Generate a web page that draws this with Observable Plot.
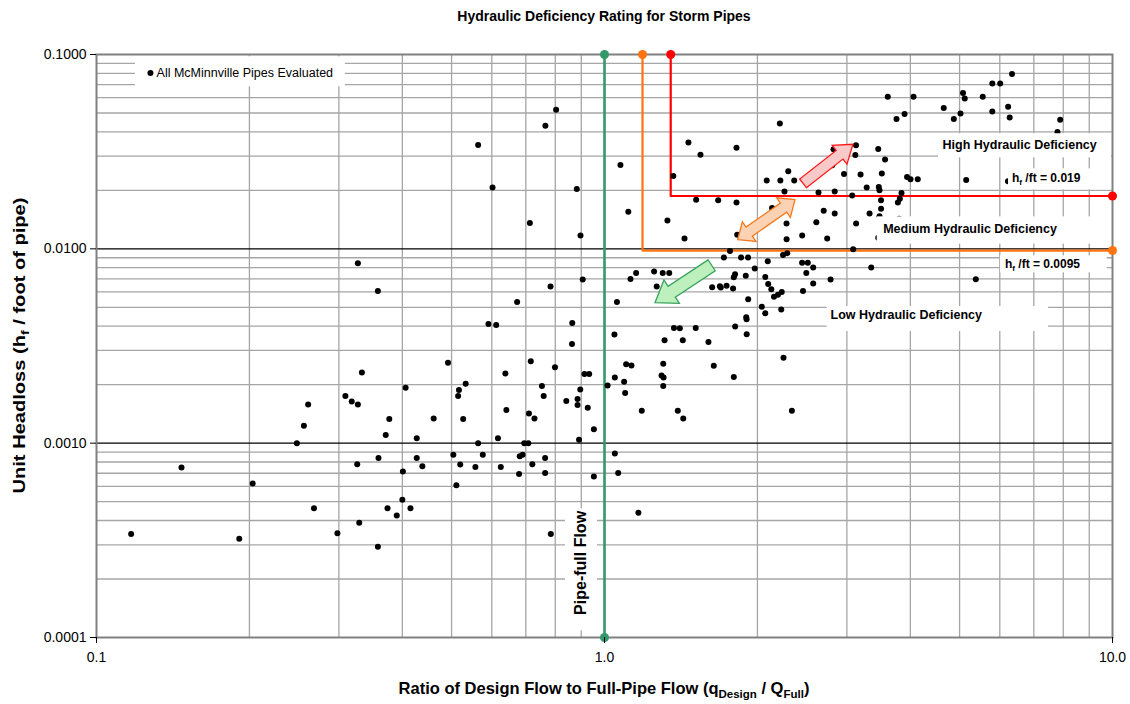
<!DOCTYPE html>
<html><head><meta charset="utf-8">
<script src="https://cdn.jsdelivr.net/npm/d3@7"></script>
<script src="https://cdn.jsdelivr.net/npm/@observablehq/plot@0.6"></script>
<style>body{margin:0;background:#fff;font-family:"Liberation Sans",Arial,sans-serif}</style>
</head><body><div id="chart"></div>
<script>
// Ratio of design flow to full-pipe flow (q_Design / Q_Full)
const pipeRatio = [
0.117,0.147,0.191,0.203,0.248,0.256,0.261,0.268,0.298,0.309,
0.318,0.326,0.327,0.327,0.329,0.333,0.358,0.358,0.359,0.371,
0.374,0.377,0.390,0.401,0.400,0.406,0.415,0.427,0.427,0.438,
0.461,0.492,0.504,0.511,0.515,0.517,0.520,0.527,0.533,0.557,
0.564,0.564,0.576,0.591,0.602,0.612,0.617,0.625,0.638,0.641,
0.673,0.679,0.681,0.690,0.695,0.708,0.710,0.713,0.716,0.721,
0.728,0.753,0.759,0.764,0.764,0.765,0.783,0.784,0.799,0.803,
0.841,0.864,0.863,0.882,0.885,0.885,0.891,0.896,0.897,0.906,
0.913,0.927,0.933,0.953,0.953,
1.014,1.046,1.048,1.048,1.058,1.064,1.075,1.093,1.098,1.103,
1.114,1.125,1.130,1.154,1.166,1.184,1.252,1.267,1.302,1.305,
1.295,1.307,1.305,1.313,1.330,1.341,1.366,1.370,1.394,1.429,
1.407,1.426,1.437,1.463,1.512,1.515,1.545,1.602,1.629,1.641,
1.674,1.687,1.694,1.739,1.766,1.791,1.797,1.797,1.807,1.808,
1.819,1.819,1.825,1.857,1.897,1.901,1.904,1.905,1.917,1.918,
1.976,2.040,2.072,2.072,2.086,2.096,2.100,2.130,2.137,2.156,
2.195,2.214,2.219,2.228,2.233,2.246,2.251,2.261,2.282,2.283,
2.289,2.300,2.338,2.363,2.450,2.449,2.459,2.496,2.513,2.575,
2.575,2.612,2.638,2.701,2.744,2.786,2.807,2.824,2.839,2.839,
2.961,3.073,3.087,3.117,3.127,3.128,3.192,3.282,3.325,3.350,
3.458,3.458,3.467,3.478,3.478,3.502,3.503,3.515,3.567,3.611,
3.757,3.780,3.804,3.814,3.843,3.896,3.941,4.003,4.058,4.137,
4.654,4.871,5.021,5.078,5.118,5.152,5.382,5.553,5.800,5.799,
6.010,6.227,6.231,6.275,6.342,7.793,7.888,1.718];

// Unit headloss (h_f / foot of pipe)
const pipeHeadloss = [
0.000341,0.000749,0.000322,0.000620,0.00100,0.00123,0.00158,0.000463,0.000344,0.00175,
0.00164,0.000780,0.00158,0.00844,0.000390,0.00231,0.000293,0.00606,0.000840,0.00110,
0.000463,0.00133,0.000424,0.000714,0.000511,0.00193,0.000463,0.00106,0.000840,0.000760,
0.00134,0.00259,0.000871,0.000608,0.00175,0.00188,0.000776,0.00133,0.00202,0.000755,
0.000998,0.0342,0.000871,0.00410,0.0207,0.00406,0.00106,0.000755,0.00228,0.00148,
0.00532,0.000693,0.000857,0.000871,0.000998,0.000998,0.00142,0.0136,0.00264,0.000778,
0.00134,0.00197,0.00175,0.000840,0.000702,0.0430,0.00640,0.000341,0.00246,0.0519,
0.00165,0.00415,0.00324,0.0203,0.00169,0.00157,0.00104,0.00189,0.0117,0.00695,
0.00227,0.00152,0.00227,0.00118,0.000673,
0.00198,0.00362,0.00218,0.000884,0.00532,0.000703,0.0270,0.00207,0.00181,0.00255,
0.0155,0.00699,0.00251,0.00752,0.000439,0.00147,0.00764,0.00640,0.00752,0.00256,
0.00223,0.00218,0.00197,0.00339,0.0140,0.00752,0.0237,0.00391,0.00147,0.00134,
0.00390,0.00339,0.0113,0.0353,0.00391,0.0179,0.0305,0.00332,0.00634,0.00250,
0.0178,0.00641,0.00632,0.00645,0.00974,0.00625,0.00715,0.00219,0.00741,0.00398,
0.0331,0.0173,0.0118,0.00902,0.00726,0.00444,0.00434,0.00364,0.00902,0.00551,
0.00792,0.00504,0.00716,0.00466,0.0225,0.00862,0.00660,0.00620,0.0162,0.00566,
0.00580,0.0441,0.0225,0.00487,0.00599,0.00929,0.00275,0.0197,0.0135,0.0112,
0.00950,0.0251,0.00147,0.0225,0.0117,0.00847,0.00606,0.00752,0.00847,0.00801,
0.00663,0.0137,0.0195,0.0157,0.0113,0.00695,0.0269,0.0325,0.0197,0.0152,
0.0243,0.0188,0.00994,0.0304,0.0341,0.0135,0.0241,0.0207,0.0152,0.00801,
0.0326,0.0114,0.0208,0.0200,0.0147,0.0178,0.0161,0.0244,0.0288,0.0606,
0.0465,0.0173,0.0143,0.0181,0.0194,0.0494,0.0234,0.0228,0.0606,0.0228,
0.0530,0.0465,0.0497,0.0633,0.0594,0.0226,0.00698,0.0606,0.0709,0.0509,
0.0709,0.0223,0.0539,0.0474,0.0793,0.0399,0.0461,0.00902];

// axis ticks / gridlines
const xTicks = [0.1, 1, 10];
const yTicks = [0.1, 0.01, 0.001, 0.0001];
const xMinor = [0.2,0.3,0.4,0.5,0.6,0.7,0.8,0.9,2,3,4,5,6,7,8,9];
const yMinor = [0.0002,0.0003,0.0004,0.0005,0.0006,0.0007,0.0008,0.0009,
                0.002,0.003,0.004,0.005,0.006,0.007,0.008,0.009,
                0.02,0.03,0.04,0.05,0.06,0.07,0.08,0.09];
const yMajor = [0.01, 0.001];

// deficiency thresholds (as drawn)
const pipeFullRatio = 1.0;
const mediumRatio = 1.188, mediumHeadloss = 0.0098;
const highRatio = 1.35, highHeadloss = 0.0187;

// annotation boxes [x1,x2,y1,y2] and label anchors, in data units
const labelBoxes = [
  {x1:0.1193, x2:0.309, y1:0.0682, y2:0.0973},   // legend
  {x1:4.545, x2:9.95, y1:0.0294, y2:0.0391},     // High
  {x1:6.242, x2:9.95, y1:0.0201, y2:0.0258},     // hf 0.019
  {x1:3.442, x2:9.95, y1:0.01057, y2:0.01461},   // Medium
  {x1:6.018, x2:9.76, y1:0.00752, y2:0.00920},   // hf 0.0095
  {x1:2.744, x2:7.482, y1:0.003753, y2:0.005047},// Low
  {x1:0.8378, x2:0.9687, y1:0.000108, y2:0.000459} // Pipe-full
];
const zoneLabels = [
  {x:4.628, y:0.0342, text:"High Hydraulic Deficiency"},
  {x:3.537, y:0.01258, text:"Medium Hydraulic Deficiency"},
  {x:2.786, y:0.004575, text:"Low Hydraulic Deficiency"}
];
const hfLabels = [
  {x:6.356, y:0.02319, value:"0.019"},
  {x:6.157, y:0.00834, value:"0.0095"}
];
const legendItem = {x:0.1277, tx:0.1313, y:0.0802, text:"All McMinnville Pipes Evaluated"};
const pipeFullLabel = {x:0.897, y:0.000242, text:"Pipe-full Flow"};

// block arrows: from -> to, in data units
const arrows = [
  {from:[2.465,0.0216], to:[3.091,0.0343], double:false, stroke:"#ff1a1a", fill:"#f9c9c9", w:5.5, h:12, L:17},
  {from:[1.833,0.01109], to:[2.377,0.0178], double:true, stroke:"#f57a1f", fill:"#fbd2b3", w:5.5, h:12, L:14},
  {from:[1.629,0.00818], to:[1.26,0.00525], double:false, stroke:"#3aa35f", fill:"#bdf0bd", w:6.5, h:14, L:20}
];

const pts = pipeRatio.map((r,i) => ({ratio:r, headloss:pipeHeadloss[i]}));
const highLine = [{x:highRatio,y:0.1},{x:highRatio,y:highHeadloss},{x:10,y:highHeadloss}];
const medLine = [{x:mediumRatio,y:0.1},{x:mediumRatio,y:mediumHeadloss},{x:10,y:mediumHeadloss}];
const fullLine = [{x:pipeFullRatio,y:0.1},{x:pipeFullRatio,y:0.0001}];

const plot = Plot.plot({
  width: 1130, height: 704,
  marginLeft: 96, marginRight: 18, marginTop: 54, marginBottom: 67,
  style: {fontFamily: "'Liberation Sans', Arial, sans-serif", fontSize: "14px", color: "#000", background: "#fff"},
  x: {type: "log", domain: [0.1, 10]},
  y: {type: "log", domain: [0.0001, 0.1]},
  marks: [
    Plot.ruleX(xMinor, {stroke: "#a6a6a6", strokeWidth: 1.3}),
    Plot.ruleY(yMinor, {stroke: "#a6a6a6", strokeWidth: 1.3}),
    Plot.ruleY(yMajor, {stroke: "#000", strokeWidth: 1.3}),
    Plot.frame({stroke: "#808080", strokeWidth: 2}),
    Plot.line(medLine, {x: "x", y: "y", stroke: "#ff7410", strokeWidth: 2.2}),
    Plot.line(highLine, {x: "x", y: "y", stroke: "#ff0000", strokeWidth: 2.2}),
    Plot.line(fullLine, {x: "x", y: "y", stroke: "#33996a", strokeWidth: 2.6}),
    Plot.dot(pts, {x: "ratio", y: "headloss", r: 3, fill: "#000"}),
    Plot.dot([medLine[0], medLine[2]], {x: "x", y: "y", r: 4.5, fill: "#ff7410"}),
    Plot.dot([highLine[0], highLine[2]], {x: "x", y: "y", r: 4.5, fill: "#ff0000"}),
    Plot.dot(fullLine, {x: "x", y: "y", r: 4.5, fill: "#33996a"}),
    Plot.rect(labelBoxes, {x1: "x1", x2: "x2", y1: "y1", y2: "y2", fill: "#fff"}),
    Plot.dot([legendItem], {x: "x", y: "y", r: 3, fill: "#000"}),
    Plot.text([legendItem], {x: "tx", y: "y", text: "text", textAnchor: "start", fontSize: 12.5}),
    Plot.text(zoneLabels, {x: "x", y: "y", text: "text", textAnchor: "start", fontSize: 12.5, fontWeight: "bold"}),
    Plot.text([pipeFullLabel], {x: "x", y: "y", text: "text", rotate: -90, fontSize: 16, fontWeight: "bold"}),
    Plot.axisX({ticks: xTicks, tickFormat: d3.format(".1f"), tickSize: 6, tickPadding: 9, label: null}),
    Plot.axisY({ticks: yTicks, tickFormat: d3.format(".4f"), tickSize: 6, tickPadding: 4, label: null})
  ]
});
document.getElementById("chart").appendChild(plot);

// extra text with subscripts and block arrows
const svg = d3.select(plot);
svg.selectAll('g[aria-label$="tick label"]').attr("font-size", 14)
  .selectAll("text").attr("font-size", 14);
const sx = plot.scale("x"), sy = plot.scale("y");
const X = d3.scaleLog().domain(sx.domain).range(sx.range);
const Y = d3.scaleLog().domain(sy.domain).range(sy.range);
const cx = (X(0.1) + X(10)) / 2, cy = (Y(0.1) + Y(0.0001)) / 2;

const g = svg.append("g").attr("font-family", "'Liberation Sans', Arial, sans-serif").attr("fill", "#000");
g.append("text").attr("x", cx).attr("y", 21).attr("text-anchor", "middle")
  .attr("font-size", 14).attr("font-weight", "bold").text("Hydraulic Deficiency Rating for Storm Pipes");

function withSubs(t, parts, subSize) {
  let prevSub = false;
  parts.forEach(([s, sub]) => {
    const ts = t.append("tspan").text(s);
    if (sub) ts.attr("font-size", subSize).attr("dy", 3.5);
    else if (prevSub) ts.attr("dy", -3.5);
    prevSub = !!sub;
  });
}
const xl = g.append("text").attr("x", cx).attr("y", 694).attr("text-anchor", "middle")
  .attr("font-size", 16.5).attr("font-weight", "bold");
withSubs(xl, [["Ratio of Design Flow to Full-Pipe Flow (q"], ["Design", true], [" / Q"], ["Full", true], [")"]], 11.5);
const yl = g.append("text").attr("transform", `translate(25,${cy}) rotate(-90)`).attr("text-anchor", "middle")
  .attr("font-size", 16.5).attr("font-weight", "bold")
  .attr("textLength", 296).attr("lengthAdjust", "spacingAndGlyphs");
withSubs(yl, [["Unit Headloss (h"], ["f", true], [" / foot of pipe)"]], 11.5);
hfLabels.forEach(d => {
  const t = g.append("text").attr("x", X(d.x)).attr("y", Y(d.y)).attr("dy", "0.35em")
    .attr("text-anchor", "start").attr("font-size", 12).attr("font-weight", "bold");
  withSubs(t, [["h"], ["f", true], [" /ft = " + d.value]], 8);
});

// block arrows
function arrowPath(a) {
  const x0 = X(a.from[0]), y0 = Y(a.from[1]), x1 = X(a.to[0]), y1 = Y(a.to[1]);
  const len = Math.hypot(x1 - x0, y1 - y0), ux = (x1 - x0) / len, uy = (y1 - y0) / len;
  const nx = -uy, ny = ux;
  const P = (bx, by, k) => [bx + nx * k, by + ny * k];
  const Bx = x1 - ux * a.L, By = y1 - uy * a.L;
  let p;
  if (a.double) {
    const Ax = x0 + ux * a.L, Ay = y0 + uy * a.L;
    p = [[x0, y0], P(Ax, Ay, a.h), P(Ax, Ay, a.w), P(Bx, By, a.w), P(Bx, By, a.h), [x1, y1],
         P(Bx, By, -a.h), P(Bx, By, -a.w), P(Ax, Ay, -a.w), P(Ax, Ay, -a.h)];
  } else {
    p = [P(x0, y0, a.w), P(Bx, By, a.w), P(Bx, By, a.h), [x1, y1], P(Bx, By, -a.h), P(Bx, By, -a.w), P(x0, y0, -a.w)];
  }
  return "M" + p.map(q => q.join(",")).join("L") + "Z";
}
arrows.forEach(a => {
  svg.append("path").attr("d", arrowPath(a)).attr("fill", a.fill).attr("stroke", a.stroke).attr("stroke-width", 1.3);
});
</script>
</body></html>
